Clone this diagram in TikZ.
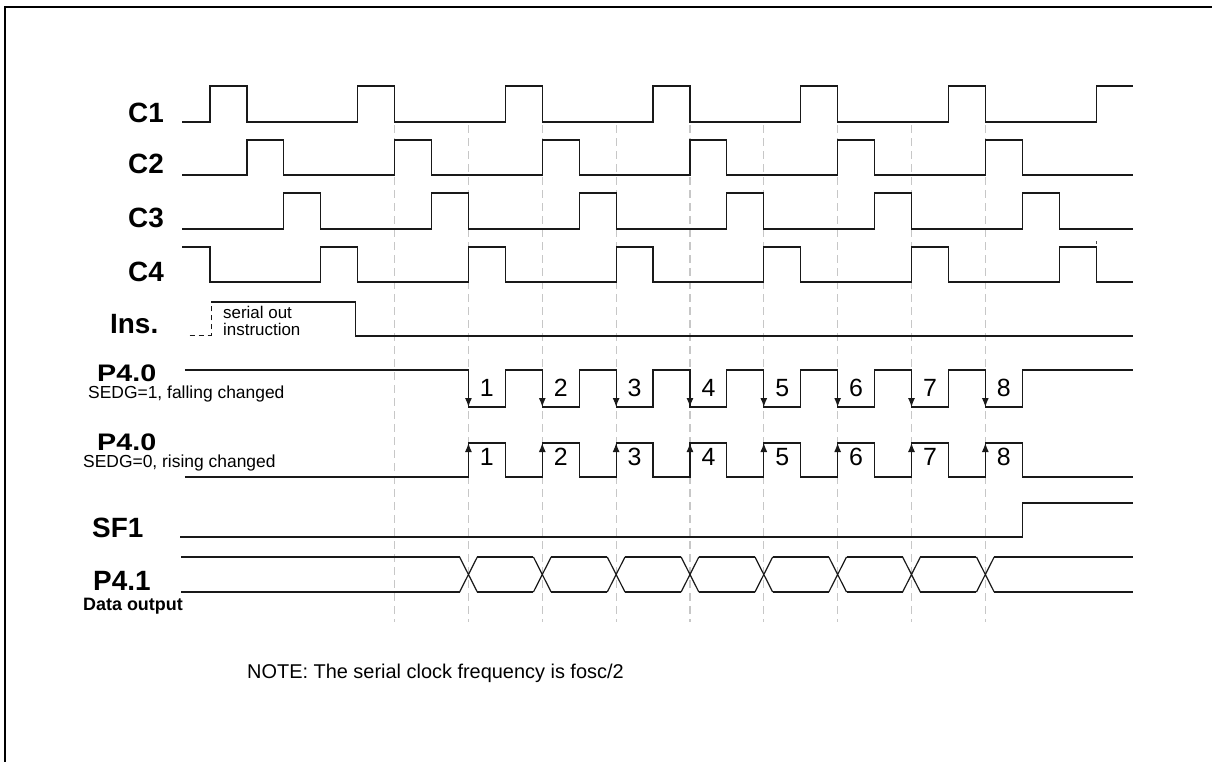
\documentclass[tikz,border=0pt]{standalone}
\usepackage{fontspec}
\setmainfont{Liberation Sans}
\usetikzlibrary{arrows.meta}
\tikzset{
    siglabel/.style={font=\fontsize{28}{30}\selectfont\bfseries, inner sep=0pt, anchor=base west},
    pinlabel/.style={siglabel, font=\fontsize{24}{24}\selectfont\bfseries},
    sublabel/.style={font=\fontsize{17.5}{18}\selectfont, inner sep=0pt, anchor=base west},
    boldsub/.style={sublabel, font=\fontsize{18}{18}\selectfont\bfseries},
    bitnum/.style={font=\fontsize{25}{25}\selectfont, inner sep=0pt},
    wave/.style={line width=1.2bp, draw=black!90},
    gridline/.style={line width=1.2bp, draw=black!22, dash pattern=on 8bp off 5bp},
    edgearrow/.style={wave, -{Latex[length=9bp, width=7bp]}},
    frameline/.style={line width=2.2bp, draw=black},
}

\begin{document}
\begin{tikzpicture}[x=1bp, y=-1bp]
    \useasboundingbox (0,0) rectangle (1212,762);
    % frame
    \draw[frameline] (1212,7) -- (5,7) -- (5,762);

    % signal names
    \node[siglabel] (c1lbl) at (128,122) {C1};
    \node[siglabel] (c2lbl) at (128,173) {C2};
    \node[siglabel] (c3lbl) at (128,227) {C3};
    \node[siglabel] (c4lbl) at (128,281) {C4};
    \node[siglabel] (inslbl) at (110,333) {Ins.};
    \node[sublabel, anchor=north west, align=left, font=\fontsize{17}{17}\selectfont] (instxt) at (223,306) {serial out\\instruction};
    \node[pinlabel] (p40flbl) at (97,381) {\scalebox{1.2}[1]{P4.0}};
    \node[sublabel] (p40fsub) at (88,398) {SEDG=1, falling changed};
    \node[pinlabel] (p40rlbl) at (97,450) {\scalebox{1.2}[1]{P4.0}};
    \node[sublabel] (p40rsub) at (83,467) {SEDG=0, rising changed};
    \node[siglabel] (sf1lbl) at (92,537) {SF1};
    \node[siglabel] (p41lbl) at (93,590) {P4.1};
    \node[boldsub] (p41sub) at (83,610) {Data output};

    % note
    \node[sublabel, font=\fontsize{20}{20}\selectfont] (note) at (247,678) {NOTE: The serial clock frequency is fosc/2};

    % waveforms, one unit = a quarter of the clock period
    \begin{scope}[x=36.92bp, xshift=210bp]
        % guide lines
        \foreach \t in {5,7,...,21}
            \draw[gridline] (\t,125) -- (\t,622);
        \draw[gridline, draw=black!70, dash pattern=on 3bp off 2bp, line width=1bp] (24,241) -- (24,262);

        % C1 .. C4
        \draw[wave] (-0.75,122) \foreach \k in {0,...,5} { -- (4*\k,122) -- (4*\k,86) -- (4*\k+1,86) -- (4*\k+1,122) } -- (24,122) -- (24,86) -- (25,86);
        \draw[wave] (-0.75,175) \foreach \k in {0,...,5} { -- (4*\k+1,175) -- (4*\k+1,140) -- (4*\k+2,140) -- (4*\k+2,175) } -- (25,175);
        \draw[wave] (-0.75,229) \foreach \k in {0,...,5} { -- (4*\k+2,229) -- (4*\k+2,193) -- (4*\k+3,193) -- (4*\k+3,229) } -- (25,229);
        \draw[wave] (-0.75,247) -- (0,247) -- (0,282) \foreach \k in {0,...,5} { -- (4*\k+3,282) -- (4*\k+3,247) -- (4*\k+4,247) -- (4*\k+4,282) } -- (25,282);

        % Ins.
        \draw[wave, line width=1bp, dash pattern=on 5bp off 4bp] (-0.55,335) -- (0.03,335) -- (0.03,302);
        \draw[wave] (0.03,302) -- (3.95,302) -- (3.95,336) -- (25,336);

        % P4.0, SEDG=1
        \draw[wave] (-0.68,370) \foreach \k in {0,...,7} { -- (7+2*\k,370) -- (7+2*\k,407) -- (8+2*\k,407) -- (8+2*\k,370) } -- (25,370);
        \foreach \k [count=\n] in {0,...,7} {
            \draw[edgearrow] (7+2*\k,370) -- (7+2*\k,407);
            \node[bitnum] (f\n) at (7.5+2*\k,388) {\n};
        }

        % P4.0, SEDG=0
        \draw[wave] (-0.68,477) \foreach \k in {0,...,7} { -- (7+2*\k,477) -- (7+2*\k,443) -- (8+2*\k,443) -- (8+2*\k,477) } -- (25,477);
        \foreach \k [count=\n] in {0,...,7} {
            \draw[edgearrow] (7+2*\k,477) -- (7+2*\k,443);
            \node[bitnum] (r\n) at (7.5+2*\k,457) {\n};
        }

        % SF1
        \draw[wave] (-0.81,537) -- (22,537) -- (22,503) -- (25,503);

        % P4.1 data bus
        \pgfmathsetmacro\xw{0.24}
        \draw[wave] (-0.78,557) -- (7-\xw,557) (-0.78,592) -- (7-\xw,592);
        \foreach \c in {7,9,...,21}
            \draw[wave] (\c-\xw,557) -- (\c+\xw,592) (\c-\xw,592) -- (\c+\xw,557);
        \foreach \c in {7,9,...,19}
            \draw[wave] (\c+\xw,557) -- (\c+2-\xw,557) (\c+\xw,592) -- (\c+2-\xw,592);
        \draw[wave] (21+\xw,557) -- (25,557) (21+\xw,592) -- (25,592);
    \end{scope}
\end{tikzpicture}
\end{document}
